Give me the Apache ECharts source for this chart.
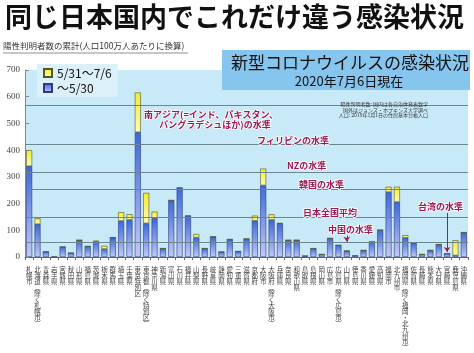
<!DOCTYPE html>
<html>
<head>
<meta charset="utf-8">
<script src="https://cdn.jsdelivr.net/npm/echarts@6/dist/echarts.min.js"></script>
<style>
  html, body { margin: 0; padding: 0; background: #fff; }
  #main { width: 474px; height: 353px; }
</style>
</head>
<body>
<div id="main"></div>
<script>
// 地域（左から）
const categories = [
  '札幌市', '北海道(除く札幌市)', '青森県', '岩手県', '宮城県', '秋田県', '山形県', '福島県',
  '茨城県', '栃木県', '群馬県', '埼玉県', '千葉県', '東京特別区', '東京都(除く特別区)', '神奈川県',
  '新潟県', '富山県', '石川県', '福井県', '山梨県', '長野県', '岐阜県', '静岡県', '愛知県',
  '三重県', '滋賀県', '京都府', '大阪市', '大阪府(除く大阪市)', '兵庫県', '奈良県', '和歌山県',
  '鳥取県', '島根県', '岡山県', '広島市', '広島県(除く広島市)', '山口県', '徳島県', '香川県',
  '愛媛県', '高知県', '福岡市', '北九州市', '福岡県(除く福岡・北九州市)', '佐賀県', '長崎県',
  '熊本県', '大分県', '宮崎県', '鹿児島県', '沖縄県'
];
// 〜5/30 の累計（100万人あたり）
const untilMay30 = [
  340, 123, 20, 0, 38, 15, 63, 40,
  58, 30, 73, 135, 139, 467, 126, 145,
  32, 212, 259, 154, 73, 32, 76, 19, 66,
  21, 68, 136, 268, 139, 126, 63, 63,
  4, 32, 10, 70, 44, 23, 5, 25,
  57, 101, 243, 206, 72, 53, 10,
  25, 47, 13, 6, 92
];
// 5/31〜7/6 の増加分
const may31ToJul6 = [
  60, 22, 0, 0, 0, 0, 0, 0,
  3, 12, 0, 33, 21, 149, 114, 25,
  0, 0, 0, 0, 13, 0, 0, 0, 0,
  0, 0, 19, 63, 21, 0, 0, 0,
  0, 0, 0, 0, 0, 0, 0, 0,
  0, 0, 20, 57, 10, 0, 0,
  0, 0, 0, 57, 0
];
// 各国の水準
const levelNames = ['南アジア', 'フィリピン', 'NZ', '韓国', '日本全国平均', '中国'];
const levelValues = [567, 423, 318, 253, 147, 57];
const taiwanLevel = 19;
const yMax = 700;
const yStep = 100;

const chart = echarts.init(document.getElementById('main'));
const FONT = '"Noto Sans CJK JP", "Noto Sans", sans-serif';
const NOTE = '#9c1a55';

function vertical(s) {
  return s.replace(/\(/g, '︵').replace(/\)/g, '︶').split('').join('\n');
}

const option = {
  animation: false,
  textStyle: { fontFamily: FONT },
  grid: {
    left: 25, right: 6, top: 70, bottom: 96,
    show: true, backgroundColor: '#c8eaf8', borderWidth: 0
  },
  legend: {
    orient: 'vertical',
    left: 37, top: 64,
    data: ['5/31〜7/6', '〜5/30'],
    icon: 'rect',
    itemWidth: 8, itemHeight: 8, itemGap: 3,
    padding: [3, 6, 3, 6],
    backgroundColor: '#dcf0f9',
    textStyle: { fontSize: 12, color: '#111', fontFamily: FONT },
    selectedMode: false
  },
  xAxis: {
    type: 'category',
    data: categories,
    axisLine: { lineStyle: { color: '#666', width: 1 } },
    axisTick: { show: true, length: 3, lineStyle: { color: '#666' } },
    axisLabel: {
      interval: 0,
      margin: 10,
      fontSize: 6.5,
      lineHeight: 6,
      color: '#444',
      verticalAlign: 'top',
      formatter: vertical
    }
  },
  yAxis: {
    type: 'value',
    min: 0, max: yMax, interval: yStep,
    axisLine: { show: true, lineStyle: { color: '#888' } },
    axisTick: { show: true, inside: true, length: 4, lineStyle: { color: '#888' } },
    splitLine: { show: false },
    axisLabel: { fontSize: 9, color: '#444', margin: 5, fontFamily: '"Liberation Serif", "DejaVu Serif", serif' }
  },
  series: [
    {
      name: '〜5/30',
      type: 'bar',
      stack: 'total',
      barWidth: 6,
      data: untilMay30,
      itemStyle: {
        color: new echarts.graphic.LinearGradient(0, 0, 0, 1, [
          { offset: 0, color: '#3b69da' },
          { offset: 1, color: '#c6c8f5' }
        ]),
        borderColor: '#2b3b80',
        borderWidth: 0.6
      },
      markLine: {
        silent: true,
        symbol: 'none',
        label: { show: false },
        lineStyle: { color: '#6d858f', width: 1, type: 'solid' },
        data: levelValues.map((v, i) => ({ name: levelNames[i], yAxis: v }))
      },
      z: 3
    },
    {
      name: '5/31〜7/6',
      type: 'bar',
      stack: 'total',
      barWidth: 6,
      data: may31ToJul6,
      itemStyle: {
        color: new echarts.graphic.LinearGradient(0, 0, 0, 1, [
          { offset: 0, color: '#f3eb2c' },
          { offset: 1, color: '#fffcb4' }
        ]),
        borderColor: '#55552a',
        borderWidth: 0.6
      },
      markLine: {
        silent: true,
        symbol: ['none', 'arrow'],
        symbolSize: 5,
        label: { show: false },
        lineStyle: { color: NOTE, width: 1, type: 'solid' },
        data: [
          [{ coord: ['山口県', 80] }, { coord: ['山口県', levelValues[5]] }],
          [{ coord: ['宮崎県', 165] }, { coord: ['宮崎県', taiwanLevel] }]
        ]
      },
      z: 3
    }
  ],
  graphic: [
    { type: 'text', left: 5, top: 3, z: 100,
      style: { text: '同じ日本国内でこれだけ違う感染状況', font: 'bold 27px ' + FONT, fill: '#111' } },
    { type: 'text', left: 3, top: 42, z: 100,
      style: { text: '陽性判明者数の累計(人口100万人あたりに換算)', font: '8.5px ' + FONT, fill: '#333' } },
    { type: 'line', z: 100, shape: { x1: 3, y1: 53, x2: 188, y2: 53 }, style: { stroke: '#444', lineWidth: 0.6 } },
    { type: 'rect', z: 100, shape: { x: 222, y: 50, width: 248, height: 40 }, style: { fill: '#86c5ee' } },
    { type: 'text', z: 101, x: 350, y: 63,
      style: { text: '新型コロナウイルスの感染状況', font: '17px ' + FONT, fill: '#111', align: 'center', verticalAlign: 'middle' } },
    { type: 'text', z: 101, x: 349, y: 81,
      style: { text: '2020年7月6日現在', font: '13px ' + FONT, fill: '#111', align: 'center', verticalAlign: 'middle' } },
    { type: 'text', z: 101, x: 428, y: 110,
      style: { text: '陽性判明者数: 国内は各自治体発表数字\n国外はジョンズ・ホプキンズ大学調べ\n人口: 2019年1月1日の住民基本台帳人口',
        font: '5px ' + FONT, lineHeight: 5.5, fill: '#333', align: 'right', verticalAlign: 'middle' } },
    { type: 'text', z: 101, x: 211, y: 115,
      style: { text: '南アジア(=インド、パキスタン、', font: 'bold 9px ' + FONT, fill: NOTE, align: 'center', verticalAlign: 'middle', stroke: '#fff', lineWidth: 1.5 } },
    { type: 'text', z: 101, x: 215, y: 125,
      style: { text: 'バングラデシュほか)の水準', font: 'bold 9px ' + FONT, fill: NOTE, align: 'center', verticalAlign: 'middle', stroke: '#fff', lineWidth: 1.5 } },
    { type: 'text', z: 101, x: 257, y: 141,
      style: { text: 'フィリピンの水準', font: 'bold 9px ' + FONT, fill: NOTE, verticalAlign: 'middle', stroke: '#fff', lineWidth: 1.5 } },
    { type: 'text', z: 101, x: 287, y: 166,
      style: { text: 'NZの水準', font: 'bold 9px ' + FONT, fill: NOTE, verticalAlign: 'middle', stroke: '#fff', lineWidth: 1.5 } },
    { type: 'text', z: 101, x: 299, y: 185,
      style: { text: '韓国の水準', font: 'bold 9px ' + FONT, fill: NOTE, verticalAlign: 'middle', stroke: '#fff', lineWidth: 1.5 } },
    { type: 'text', z: 101, x: 303, y: 213,
      style: { text: '日本全国平均', font: 'bold 9px ' + FONT, fill: NOTE, verticalAlign: 'middle', stroke: '#fff', lineWidth: 1.5 } },
    { type: 'text', z: 101, x: 328, y: 230,
      style: { text: '中国の水準', font: 'bold 9px ' + FONT, fill: NOTE, verticalAlign: 'middle', stroke: '#fff', lineWidth: 1.5 } },
    { type: 'text', z: 101, x: 418, y: 207,
      style: { text: '台湾の水準', font: 'bold 9px ' + FONT, fill: NOTE, verticalAlign: 'middle', stroke: '#fff', lineWidth: 1.5 } }
  ]
};

chart.setOption(option);
</script>
</body>
</html>
